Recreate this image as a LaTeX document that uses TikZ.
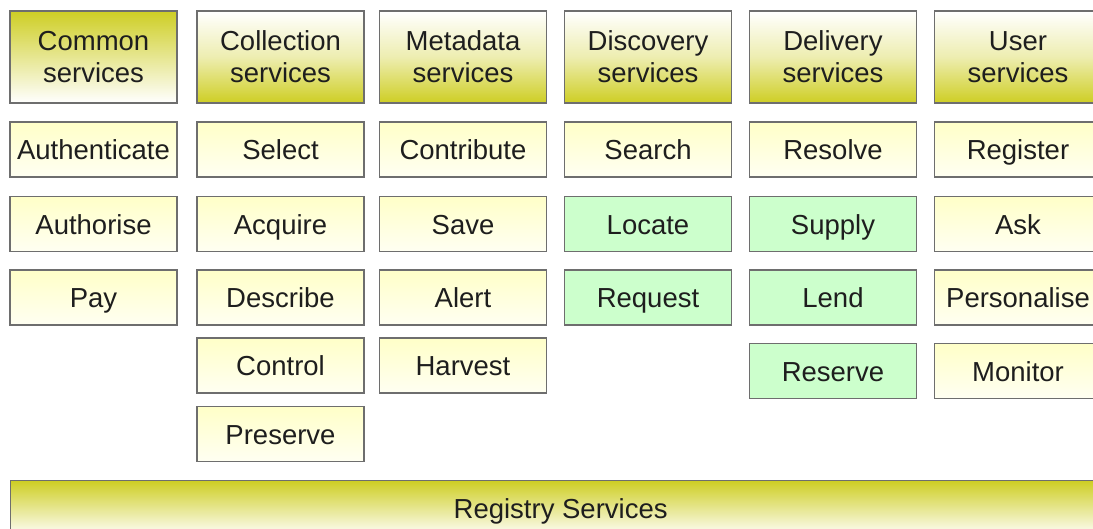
\documentclass[tikz,border=0pt]{standalone}
\usepackage{fontspec}
\setmainfont{Liberation Sans}
\definecolor{olive1}{RGB}{206,206,36}
\definecolor{lyel}{RGB}{255,255,200}
\definecolor{lyel2}{RGB}{255,255,242}
\definecolor{lgreen}{RGB}{204,255,204}
\definecolor{bord}{RGB}{110,110,110}
\definecolor{txt}{RGB}{30,30,30}
\begin{document}
\begin{tikzpicture}[x=1pt,y=-1pt,
  base/.style={draw=bord, line width=1.3pt, rectangle, inner sep=0pt, text=txt,
    font=\fontsize{27.5}{32}\selectfont, align=center, minimum width=167pt},
  head/.style={base, minimum height=92pt, top color=white, bottom color=olive1, middle color=white!40!olive1!60!white},
  headinv/.style={base, minimum height=92pt, top color=olive1, bottom color=white},
  one/.style={base, text height=20pt, text depth=0pt},
  item/.style={one, minimum height=55pt, top color=lyel, bottom color=lyel2},
  gitem/.style={one, minimum height=55pt, fill=lgreen},
]
\clip (0,0) rectangle (1093,528);
\fill[white] (0,0) rectangle (1093,528);
% headers
\node[headinv] (hcom) at (93.5,57) {Common\\services};
\node[head] (hcol) at (280.5,57) {Collection\\services};
\node[head] (hmet) at (463,57) {Metadata\\services};
\node[head] (hdis) at (648,57) {Discovery\\services};
\node[head] (hdel) at (833,57) {Delivery\\services};
\node[head] (huse) at (1018,57) {User\\services};
% common
\node[item] (auth) at (93.5,149.5) {Authenticate};
\node[item] (autz) at (93.5,224) {Authorise};
\node[item] (pay) at (93.5,297.5) {Pay};
% collection
\node[item] (sel) at (280.5,149.5) {Select};
\node[item] (acq) at (280.5,224) {Acquire};
\node[item] (des) at (280.5,297.5) {Describe};
\node[item] (con) at (280.5,365.5) {Control};
\node[item] (pre) at (280.5,434) {Preserve};
% metadata
\node[item] (ctb) at (463,149.5) {Contribute};
\node[item] (sav) at (463,224) {Save};
\node[item] (ale) at (463,297.5) {Alert};
\node[item] (har) at (463,365.5) {Harvest};
% discovery
\node[item] (sea) at (648,149.5) {Search};
\node[gitem] (loc) at (648,224) {Locate};
\node[gitem] (req) at (648,297.5) {Request};
% delivery
\node[item] (res) at (833,149.5) {Resolve};
\node[gitem] (sup) at (833,224) {Supply};
\node[gitem] (len) at (833,297.5) {Lend};
\node[gitem] (rsv) at (833,371) {Reserve};
% user
\node[item] (reg) at (1018,149.5) {Register};
\node[item] (ask) at (1018,224) {Ask};
\node[item] (per) at (1018,297.5) {Personalise};
\node[item] (mon) at (1018,371) {Monitor};
% registry
\node[one, minimum width=1100pt, minimum height=56pt, anchor=north west,
  top color=olive1, bottom color=white] (regs) at (10,480) {Registry Services};
\end{tikzpicture}
\end{document}
